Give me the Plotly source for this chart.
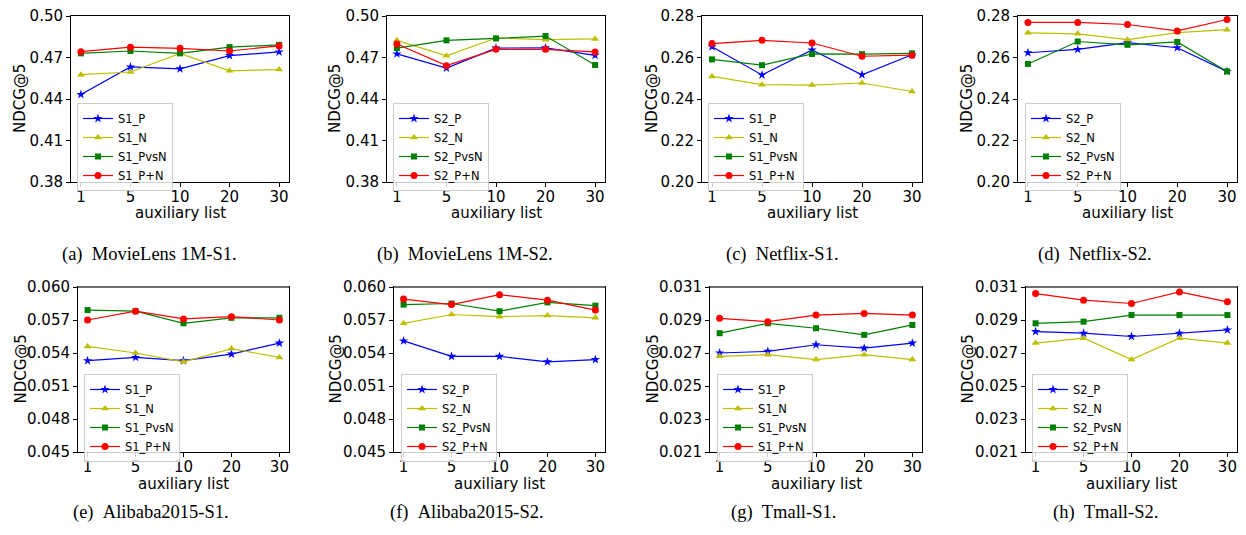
import plotly.graph_objects as go

# page is rendered with an 8px body margin -> figure is sized to fit inside it
W, H = 1246, 535
OFF = 8
FW, FH = W - 2 * OFF, H - 2 * OFF

x_labels = ["1", "5", "10", "20", "30"]

# ---- data ----
a_P    = [0.4433, 0.4632, 0.4618, 0.4714, 0.4740]
a_N    = [0.4576, 0.4595, 0.4730, 0.4604, 0.4613]
a_PvsN = [0.4730, 0.4747, 0.4730, 0.4775, 0.4791]
a_PN   = [0.4742, 0.4775, 0.4766, 0.4747, 0.4784]

b_P    = [0.4726, 0.4623, 0.4768, 0.4770, 0.4716]
b_N    = [0.4824, 0.4712, 0.4841, 0.4829, 0.4834]
b_PvsN = [0.4768, 0.4824, 0.4838, 0.4855, 0.4646]
b_PN   = [0.4798, 0.4641, 0.4759, 0.4759, 0.4740]

c_P    = [0.2652, 0.2516, 0.2636, 0.2517, 0.2613]
c_N    = [0.2509, 0.2469, 0.2467, 0.2477, 0.2436]
c_PvsN = [0.2591, 0.2563, 0.2617, 0.2616, 0.2620]
c_PN   = [0.2667, 0.2683, 0.2670, 0.2606, 0.2611]

d_P    = [0.2623, 0.2639, 0.2672, 0.2647, 0.2533]
d_N    = [0.2719, 0.2714, 0.2686, 0.2720, 0.2734]
d_PvsN = [0.2569, 0.2677, 0.2661, 0.2675, 0.2533]
d_PN   = [0.2769, 0.2769, 0.2759, 0.2728, 0.2783]

e_P    = [0.0533, 0.0536, 0.0533, 0.0539, 0.0549]
e_N    = [0.0546, 0.0540, 0.0532, 0.0544, 0.0536]
e_PvsN = [0.0579, 0.0578, 0.0567, 0.0572, 0.0572]
e_PN   = [0.0570, 0.0578, 0.0571, 0.0573, 0.0570]

f_P    = [0.0551, 0.0537, 0.0537, 0.0532, 0.0534]
f_N    = [0.0567, 0.0575, 0.0573, 0.0574, 0.0572]
f_PvsN = [0.0584, 0.0585, 0.0578, 0.0586, 0.0583]
f_PN   = [0.0589, 0.0584, 0.0593, 0.0588, 0.0579]

g_P    = [0.0270, 0.0271, 0.0275, 0.0273, 0.0276]
g_N    = [0.0268, 0.0269, 0.0266, 0.0269, 0.0266]
g_PvsN = [0.0282, 0.0288, 0.0285, 0.0281, 0.0287]
g_PN   = [0.0291, 0.0289, 0.0293, 0.0294, 0.0293]

h_P    = [0.0283, 0.0282, 0.0280, 0.0282, 0.0284]
h_N    = [0.0276, 0.0279, 0.0266, 0.0279, 0.0276]
h_PvsN = [0.0288, 0.0289, 0.0293, 0.0293, 0.0293]
h_PN   = [0.0306, 0.0302, 0.0300, 0.0307, 0.0301]

ticks_ab = [0.38, 0.41, 0.44, 0.47, 0.50]
ticks_cd = [0.20, 0.22, 0.24, 0.26, 0.28]
ticks_ef = [0.045, 0.048, 0.051, 0.054, 0.057, 0.060]
ticks_gh = [0.021, 0.023, 0.025, 0.027, 0.029, 0.031]

captions = ["(a)  MovieLens 1M-S1.", "(b)  MovieLens 1M-S2.", "(c)  Netflix-S1.",
            "(d)  Netflix-S2.", "(e)  Alibaba2015-S1.", "(f)  Alibaba2015-S2.",
            "(g)  Tmall-S1.", "(h)  Tmall-S2."]

panels = [
    dict(data=[a_P, a_N, a_PvsN, a_PN], pre="S1", ticks=ticks_ab, fmt=".2f"),
    dict(data=[b_P, b_N, b_PvsN, b_PN], pre="S2", ticks=ticks_ab, fmt=".2f"),
    dict(data=[c_P, c_N, c_PvsN, c_PN], pre="S1", ticks=ticks_cd, fmt=".2f"),
    dict(data=[d_P, d_N, d_PvsN, d_PN], pre="S2", ticks=ticks_cd, fmt=".2f"),
    dict(data=[e_P, e_N, e_PvsN, e_PN], pre="S1", ticks=ticks_ef, fmt=".3f"),
    dict(data=[f_P, f_N, f_PvsN, f_PN], pre="S2", ticks=ticks_ef, fmt=".3f"),
    dict(data=[g_P, g_N, g_PvsN, g_PN], pre="S1", ticks=ticks_gh, fmt=".3f"),
    dict(data=[h_P, h_N, h_PvsN, h_PN], pre="S2", ticks=ticks_gh, fmt=".3f"),
]

# ---- layout geometry (page pixels) ----
px_x = [(71, 289), (387, 605), (702, 922), (1018, 1237),
        (78, 289), (394, 605), (710, 922), (1026, 1237)]
px_y = [(16, 182)] * 4 + [(287, 452)] * 4
legend_pos = [(77, 103), (393, 103), (708, 103), (1025, 103),
              (84, 374), (401, 374), (717, 374), (1032, 374)]
caption_pos = [(149, 254), (465, 254), (782, 254), (1095, 254),
               (151, 512), (467, 512), (783, 512), (1105, 512)]
ytitle_x = [20, 335, 652, 967, 20, 335, 652, 967]
xtitle_y = [213.5] * 4 + [484] * 4


def PX(v):
    return (v - OFF) / FW


def PY(v):
    return 1 - (v - OFF) / FH


suffixes = ["_P", "_N", "_PvsN", "_P+N"]
colors = ["#0000ff", "#bfbf00", "#008000", "#ff0000"]
symbols = ["star", "triangle-up", "square", "circle"]
msize = [7, 7, 6, 7]

fig = go.Figure()
layout = dict(template="none", width=FW, height=FH, margin=dict(l=0, r=0, t=0, b=0, pad=0),
              paper_bgcolor="white", plot_bgcolor="white", showlegend=True,
              font=dict(family="DejaVu Sans", color="black"))
annotations = []
shapes = []

for i, p in enumerate(panels):
    n = i + 1
    xa = "x" if n == 1 else f"x{n}"
    ya = "y" if n == 1 else f"y{n}"
    lg = "legend" if n == 1 else f"legend{n}"
    for k in range(4):
        fig.add_trace(go.Scatter(
            x=list(range(len(x_labels))), y=p["data"][k], xaxis=xa, yaxis=ya,
            mode="lines+markers", name=p["pre"] + suffixes[k],
            line=dict(color=colors[k], width=1.2),
            marker=dict(symbol=symbols[k], size=msize[k], color=colors[k], line=dict(width=0)),
            legend=lg))
    x0, x1 = px_x[i]
    y0, y1 = px_y[i]
    t = p["ticks"]
    layout["xaxis" if n == 1 else f"xaxis{n}"] = dict(
        domain=[PX(x0), PX(x1)], anchor=ya, range=[-0.2, 4.2], automargin=False,
        ticklabeloverflow="allow", ticklabelstandoff=-3,
        tickmode="array", tickvals=list(range(5)), ticktext=x_labels,
        ticks="outside", ticklen=4, tickwidth=1, tickcolor="black", showgrid=False, zeroline=False,
        showline=True, linecolor="black", linewidth=1, mirror=True,
        tickfont=dict(size=15))
    layout["yaxis" if n == 1 else f"yaxis{n}"] = dict(
        domain=[PY(y1), PY(y0)], anchor=xa, range=[t[0], t[-1]], automargin=False,
        ticklabeloverflow="allow",
        tickmode="array", tickvals=t, ticktext=[format(v, p["fmt"]) for v in t],
        ticks="outside", ticklen=4, tickwidth=1, tickcolor="black", showgrid=False, zeroline=False,
        showline=True, linecolor="black", linewidth=1, mirror=True,
        tickfont=dict(size=15))
    lx, ly = legend_pos[i]
    layout[lg] = dict(x=PX(lx), y=PY(ly), xanchor="left", yanchor="top",
                      bgcolor="rgba(255,255,255,0.8)", bordercolor="#cccccc", borderwidth=1,
                      font=dict(size=11.5), tracegroupgap=0, itemwidth=30)
    annotations.append(dict(text="NDCG@5", x=PX(ytitle_x[i]), y=PY((y0 + y1) / 2),
                            xref="paper", yref="paper", textangle=-90, showarrow=False,
                            font=dict(size=15), xanchor="center", yanchor="middle"))
    annotations.append(dict(text="auxiliary list", x=PX((x0 + x1) / 2), y=PY(xtitle_y[i]),
                            xref="paper", yref="paper", showarrow=False,
                            font=dict(size=15), xanchor="center", yanchor="middle"))
    cx, cy = caption_pos[i]
    annotations.append(dict(text=captions[i].replace("  ", "\u00a0\u00a0"), x=PX(cx), y=PY(cy),
                            xref="paper", yref="paper",
                            showarrow=False, xanchor="center", yanchor="middle",
                            font=dict(family="Liberation Serif", size=18.5)))
    if i >= 4:
        # greyish, thicker top spine seen on the lower row of the reference
        shapes.append(dict(type="line", xref="paper", yref="paper",
                           x0=PX(x0), x1=PX(x1), y0=PY(y0), y1=PY(y0),
                           line=dict(color="#6e6e6e", width=2)))

layout["annotations"] = annotations
layout["shapes"] = shapes
fig.update_layout(**layout)
fig.write_html("out.html")
